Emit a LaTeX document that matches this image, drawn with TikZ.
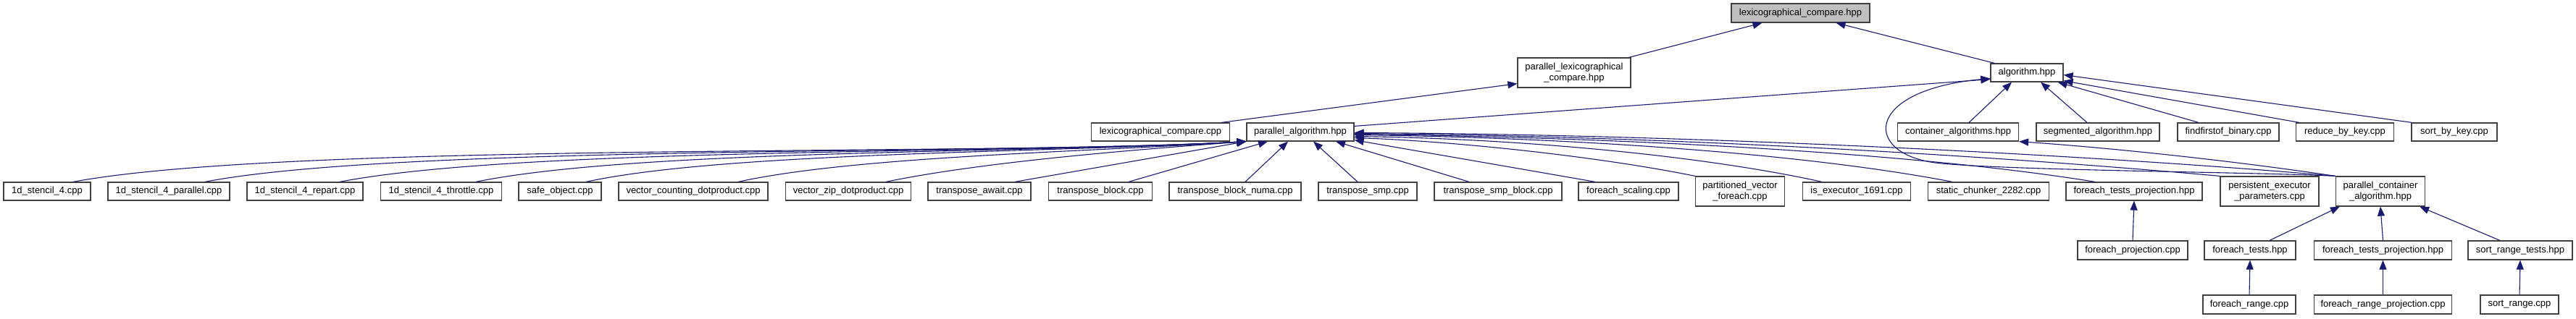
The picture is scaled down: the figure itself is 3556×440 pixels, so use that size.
\documentclass[tikz,border=0pt]{standalone}
\usepackage{fontspec}
\setmainfont{Liberation Sans}
\usetikzlibrary{arrows.meta,calc}
\definecolor{edgec}{RGB}{25,25,112}
\definecolor{boxc}{RGB}{64,64,64}
\definecolor{topfill}{RGB}{191,191,191}
\tikzset{
  box/.style={draw=boxc, line width=1.2pt, fill=white, inner sep=0pt, align=center,
    font=\fontsize{13}{15}\selectfont, minimum height=25pt},
  twoline/.style={minimum height=41pt},
  edge/.style={draw=edgec, line width=1.1pt, -{Triangle[length=13pt,width=10pt]}}
}
\begin{document}
\begin{tikzpicture}[x=1pt,y=-1pt]
\useasboundingbox[fill=white] (0,0) rectangle (3556,440);
% row 0
\node[box, fill=topfill, minimum width=191pt, minimum height=26pt] (lch) at (2485.5,18) {lexicographical\_compare.hpp};
% row 1
\node[box, twoline, minimum width=156pt] (plch) at (2173,100.5) {parallel\_lexicographical\\\_compare.hpp};
\node[box, minimum width=100pt] (alg) at (2798,100.5) {algorithm.hpp};
% row 2
\node[box, minimum width=191pt] (lcc) at (1602,182.5) {lexicographical\_compare.cpp};
\node[box, minimum width=148pt] (pa) at (1795,182.5) {parallel\_algorithm.hpp};
\node[box, minimum width=167pt] (ca) at (2703,182.5) {container\_algorithms.hpp};
\node[box, minimum width=170pt] (sa) at (2896,182.5) {segmented\_algorithm.hpp};
\node[box, minimum width=140pt] (ff) at (3076,182.5) {findfirstof\_binary.cpp};
\node[box, minimum width=135pt] (rbk) at (3237,182.5) {reduce\_by\_key.cpp};
\node[box, minimum width=118pt] (sbk) at (3388,182.5) {sort\_by\_key.cpp};
% row 3
\node[box, minimum width=120pt] (s1) at (65,264.5) {1d\_stencil\_4.cpp};
\node[box, minimum width=168pt] (s2) at (233,264.5) {1d\_stencil\_4\_parallel.cpp};
\node[box, minimum width=160pt] (s3) at (421,264.5) {1d\_stencil\_4\_repart.cpp};
\node[box, minimum width=167pt] (s4) at (609,264.5) {1d\_stencil\_4\_throttle.cpp};
\node[box, minimum width=114pt] (so) at (773,264.5) {safe\_object.cpp};
\node[box, minimum width=206pt] (vcd) at (957,264.5) {vector\_counting\_dotproduct.cpp};
\node[box, minimum width=173pt] (vzd) at (1171,264.5) {vector\_zip\_dotproduct.cpp};
\node[box, minimum width=142pt] (ta) at (1352,264.5) {transpose\_await.cpp};
\node[box, minimum width=143pt] (tb) at (1519,264.5) {transpose\_block.cpp};
\node[box, minimum width=182pt] (tbn) at (1705,264.5) {transpose\_block\_numa.cpp};
\node[box, minimum width=136pt] (tsmp) at (1888,264.5) {transpose\_smp.cpp};
\node[box, minimum width=176pt] (tsb) at (2068,264.5) {transpose\_smp\_block.cpp};
\node[box, minimum width=138pt] (fsc) at (2248,264.5) {foreach\_scaling.cpp};
\node[box, twoline, minimum width=123pt] (pvf) at (2402,264.5) {partitioned\_vector\\\_foreach.cpp};
\node[box, minimum width=149pt] (ie) at (2563,264.5) {is\_executor\_1691.cpp};
\node[box, minimum width=167pt] (sc) at (2745,264.5) {static\_chunker\_2282.cpp};
\node[box, minimum width=188pt] (ftpa) at (2946,264.5) {foreach\_tests\_projection.hpp};
\node[box, twoline, minimum width=136pt] (pep) at (3133,264.5) {persistent\_executor\\\_parameters.cpp};
\node[box, twoline, minimum width=123pt] (pca) at (3286,264.5) {parallel\_container\\\_algorithm.hpp};
% row 4
\node[box, minimum width=152pt, minimum height=26pt] (fp) at (2944,346) {foreach\_projection.cpp};
\node[box, minimum width=126pt, minimum height=26pt] (ft) at (3106,346) {foreach\_tests.hpp};
\node[box, minimum width=190pt, minimum height=26pt] (ftpb) at (3289.5,346) {foreach\_tests\_projection.hpp};
\node[box, minimum width=144pt, minimum height=26pt] (srt) at (3479,346) {sort\_range\_tests.hpp};
% row 5
\node[box, minimum width=128pt, minimum height=26pt] (fr) at (3105,421) {foreach\_range.cpp};
\node[box, minimum width=190pt, minimum height=26pt] (frp) at (3289.5,421) {foreach\_range\_projection.cpp};
\node[box, minimum width=108pt, minimum height=26pt] (sr) at (3478,421) {sort\_range.cpp};

% edges: top part
\draw[edge] ($(plch.north east)+(-3,0)$) -- ($(lch.south)+(-53,0)$);
\draw[edge] ($(alg.north west)+(6,0)$) -- ($(lch.south)+(49,0)$);
\draw[edge] ($(lcc.north east)+(-12,0)$) -- ($(plch.south west)+(0,-6)$);
\draw[edge] ($(pa.north east)+(0,5)$) -- ($(alg.west)+(0,9)$);
\draw[edge] ($(ca.north)+(15,0)$) -- ($(alg.south)+(-21,0)$);
\draw[edge] ($(sa.north)+(-15,0)$) -- ($(alg.south)+(19,0)$);
\draw[edge] ($(ff.north)+(-41,0)$) -- ($(alg.south east)+(-8,0)$);
\draw[edge] ($(rbk.north)+(-63,0)$) -- ($(alg.south east)+(0,-2)$);
\draw[edge] ($(sbk.north west)+(1,0)$) -- ($(alg.east)+(0,3)$);
\draw[edge] (pca.north west) .. controls (3120,238) and (2790,236) .. (2680,226)
  .. controls (2570,216) and (2570,125) .. ($(alg.west)+(0,8)$);
\draw[edge] (pca.north west) .. controls (3080,222) and (2920,205) .. (ca.south east);

% edges into parallel_algorithm.hpp, left bundle
\draw[edge] ($(s1.north)+(36,0)$) .. controls (400,196) and (1350,216) .. (pa.south west);
\draw[edge] ($(s2.north)+(50,0)$) .. controls (550,200) and (1380,214) .. (pa.south west);
\draw[edge] ($(s3.north)+(48,0)$) .. controls (720,203) and (1400,213) .. (pa.south west);
\draw[edge] ($(s4.north)+(48,0)$) .. controls (880,206) and (1420,212) .. (pa.south west);
\draw[edge] ($(so.north)+(36,0)$) .. controls (1000,210) and (1450,211) .. (pa.south west);
\draw[edge] ($(vcd.north)+(62,0)$) .. controls (1180,216) and (1500,210) .. (pa.south west);
\draw[edge] ($(vzd.north)+(52,0)$) .. controls (1350,225) and (1550,208) .. (pa.south west);
\draw[edge] ($(ta.north)+(49,0)$) -- (pa.south west);
% middle
\draw[edge] ($(tb.north)+(39,0)$) -- ($(pa.south)+(-45,0)$);
\draw[edge] ($(tbn.north)+(14,0)$) -- ($(pa.south)+(-17,0)$);
\draw[edge] ($(tsmp.north)+(-14,0)$) -- ($(pa.south)+(18,0)$);
\draw[edge] ($(tsb.north)+(-40,0)$) -- ($(pa.south)+(49,0)$);
% right bundle
\draw[edge] ($(fsc.north)+(-46,0)$) -- ($(pa.south east)+(0,-2)$);
\draw[edge] (pvf.north west) .. controls (2200,215) and (2000,195) .. ($(pa.east)+(0,8)$);
\draw[edge] ($(ie.north)+(-48,0)$) .. controls (2350,215) and (2100,192) .. ($(pa.east)+(0,6)$);
\draw[edge] ($(sc.north)+(-50,0)$) .. controls (2480,210) and (2150,190) .. ($(pa.east)+(0,4)$);
\draw[edge] ($(ftpa.north)+(-54,0)$) .. controls (2637,210) and (2228,190) .. ($(pa.east)+(0,3)$);
\draw[edge] (pep.north west) .. controls (2750,215) and (2300,188) .. ($(pa.east)+(0,2)$);
\draw[edge] (pca.north west) .. controls (2900,215) and (2350,186) .. ($(pa.east)+(0,1)$);

% bottom part
\draw[edge] (fp.north) -- (ftpa.south);
\draw[edge] ($(ft.north)+(27,0)$) -- ($(pca.south west)+(6,0)$);
\draw[edge] (ftpb.north) -- (pca.south);
\draw[edge] ($(srt.north)+(-28,0)$) -- ($(pca.south east)+(-8,0)$);
\draw[edge] (fr.north) -- (ft.south);
\draw[edge] (frp.north) -- (ftpb.south);
\draw[edge] (sr.north) -- (srt.south);
\end{tikzpicture}
\end{document}
